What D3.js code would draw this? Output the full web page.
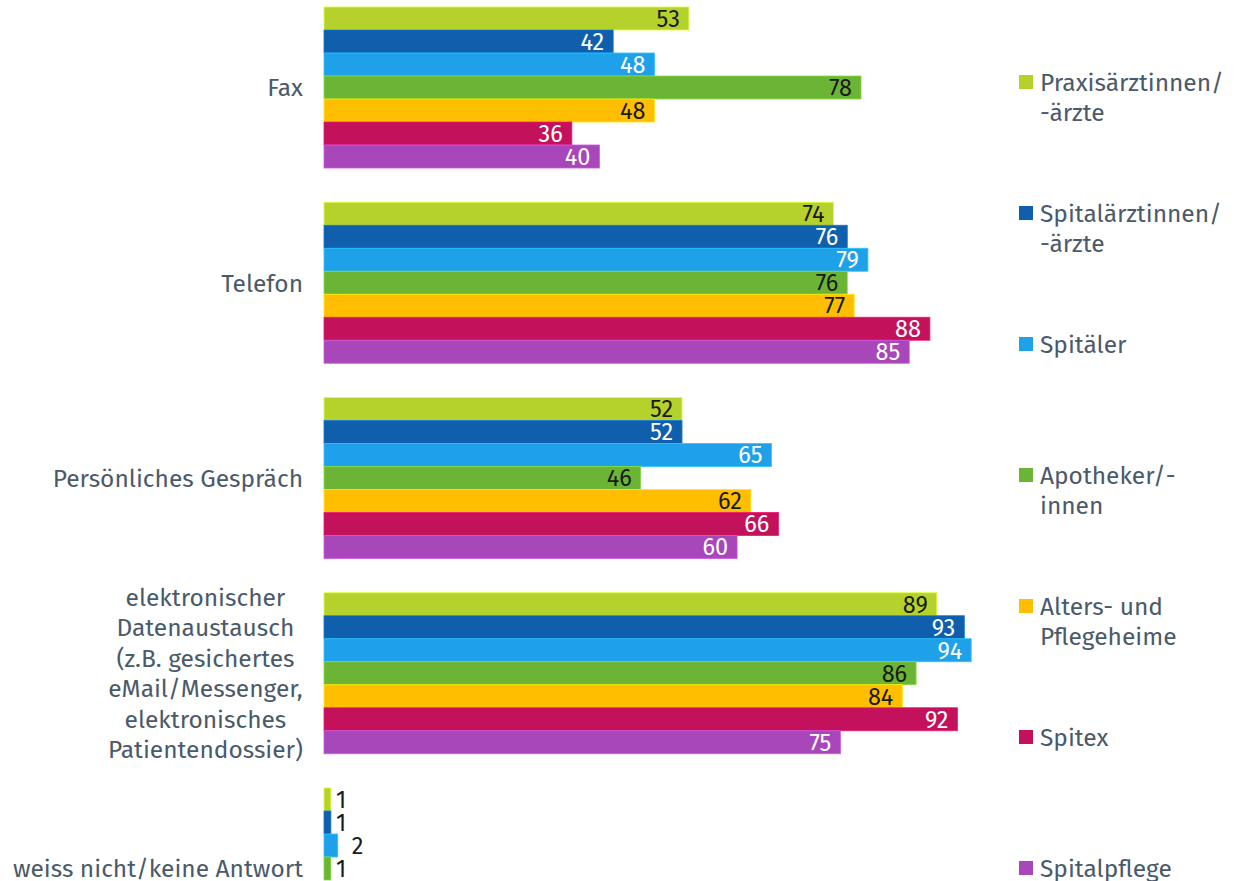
<!DOCTYPE html>
<html><head><meta charset="utf-8">
<script src="https://cdn.jsdelivr.net/npm/d3@7"></script>
<style>
html,body{margin:0;padding:0;background:#fff;overflow:hidden;}
svg{display:block;font-family:"Fira Sans",Roboto,"Noto Sans",sans-serif;}
</style></head>
<body>
<svg id="chart" width="1240" height="881"></svg>
<script>
const categories = ["Fax", "Telefon", "Persönliches Gespräch",
  "elektronischer\nDatenaustausch\n(z.B. gesichertes\neMail/Messenger,\nelektronisches\nPatientendossier)",
  "weiss nicht/keine Antwort"];
const seriesNames = ["Praxisärztinnen/\n-ärzte", "Spitalärztinnen/\n-ärzte", "Spitäler", "Apotheker/-\ninnen", "Alters- und\nPflegeheime", "Spitex", "Spitalpflege"];
const seriesColors = ["#b5d22c", "#0f5fad", "#1fa1e9", "#6bb435", "#ffbf00", "#c4115b", "#a747b9"];
const labelDark = [true, false, false, true, true, false, false];
const praxis      = [53, 74, 52, 89, 1];
const spitalAerzte= [42, 76, 52, 93, 1];
const spitaeler   = [48, 79, 65, 94, 2];
const apotheker   = [78, 76, 46, 86, 1];
const heime       = [48, 77, 62, 84, null];
const spitex      = [36, 88, 66, 92, null];
const spitalpflege= [40, 85, 60, 75, null];
const seriesValues = [praxis, spitalAerzte, spitaeler, apotheker, heime, spitex, spitalpflege];

const svg = d3.select("#chart");
const textColor = "#4b5a6a";
const labelFont = 24.5;
const valueFont = 23.5;

const x = d3.scaleLinear().domain([0, 100]).range([324, 324 + 688.5]);
const y = d3.scaleBand().domain(categories).range([7, 949]).paddingInner(0.1754).paddingOuter(0);
const yInner = d3.scaleBand().domain(d3.range(seriesNames.length)).range([0, y.bandwidth()]).padding(0);

const groups = svg.selectAll("g.cat").data(categories).join("g")
  .attr("class", "cat")
  .attr("transform", d => `translate(0,${y(d)})`);

groups.each(function(cat, ci) {
  const g = d3.select(this);
  const rows = seriesValues.map((vals, si) => ({si, v: vals[ci]})).filter(r => r.v != null);
  g.selectAll("rect").data(rows).join("rect")
    .attr("x", x(0))
    .attr("y", r => yInner(r.si))
    .attr("width", r => x(r.v) - x(0))
    .attr("height", yInner.bandwidth())
    .attr("fill", r => seriesColors[r.si])
    .attr("stroke", r => d3.color(seriesColors[r.si]).brighter(0.6))
    .attr("stroke-width", 0.8);
  const small = r => (x(r.v) - x(0) < 30);
  g.selectAll("text.val").data(rows).join("text")
    .attr("class", "val")
    .attr("x", r => small(r) ? x(r.v) + (r.v >= 2 ? 14 : 5) : x(r.v) - 9)
    .attr("text-anchor", r => small(r) ? "start" : "end")
    .attr("y", r => yInner(r.si) + yInner.bandwidth() / 2)
    .attr("dy", "0.36em")
    .attr("font-size", valueFont)
    .attr("fill", r => small(r) ? "#1a1a1a" : (labelDark[r.si] ? "#1a1a1a" : "#ffffff"))
    .text(r => r.v);

  // category label
  const lines = cat.split("\n");
  const lh = 30.4;
  const t = g.append("text")
    .attr("font-size", labelFont)
    .attr("fill", textColor);
  const c = y.bandwidth() / 2;
  lines.forEach((ln, i) => {
    t.append("tspan").attr("x", 0)
      .attr("y", c + (i - (lines.length - 1) / 2) * lh)
      .attr("dy", "0.36em")
      .text(ln);
  });
  if (lines.length > 1) {
    const w = t.node().getBBox().width;
    t.attr("text-anchor", "middle").selectAll("tspan").attr("x", 303 - w / 2);
  } else {
    t.attr("text-anchor", "end").selectAll("tspan").attr("x", 303);
  }
});

// legend
const legY = d3.scalePoint().domain(d3.range(seriesNames.length)).range([82, 868]);
const leg = svg.selectAll("g.leg").data(seriesNames).join("g")
  .attr("class", "leg")
  .attr("transform", (d, i) => `translate(1019,${legY(i)})`);
leg.append("rect").attr("x", 0).attr("y", -7).attr("width", 14).attr("height", 14)
  .attr("fill", (d, i) => seriesColors[i]);
leg.append("text").attr("font-size", labelFont).attr("fill", textColor)
  .each(function(d) {
    const t = d3.select(this);
    d.split("\n").forEach((ln, i) => {
      t.append("tspan").attr("x", 21).attr("y", i * 30.4).attr("dy", "0.36em").text(ln);
    });
  });
</script>
</body></html>
